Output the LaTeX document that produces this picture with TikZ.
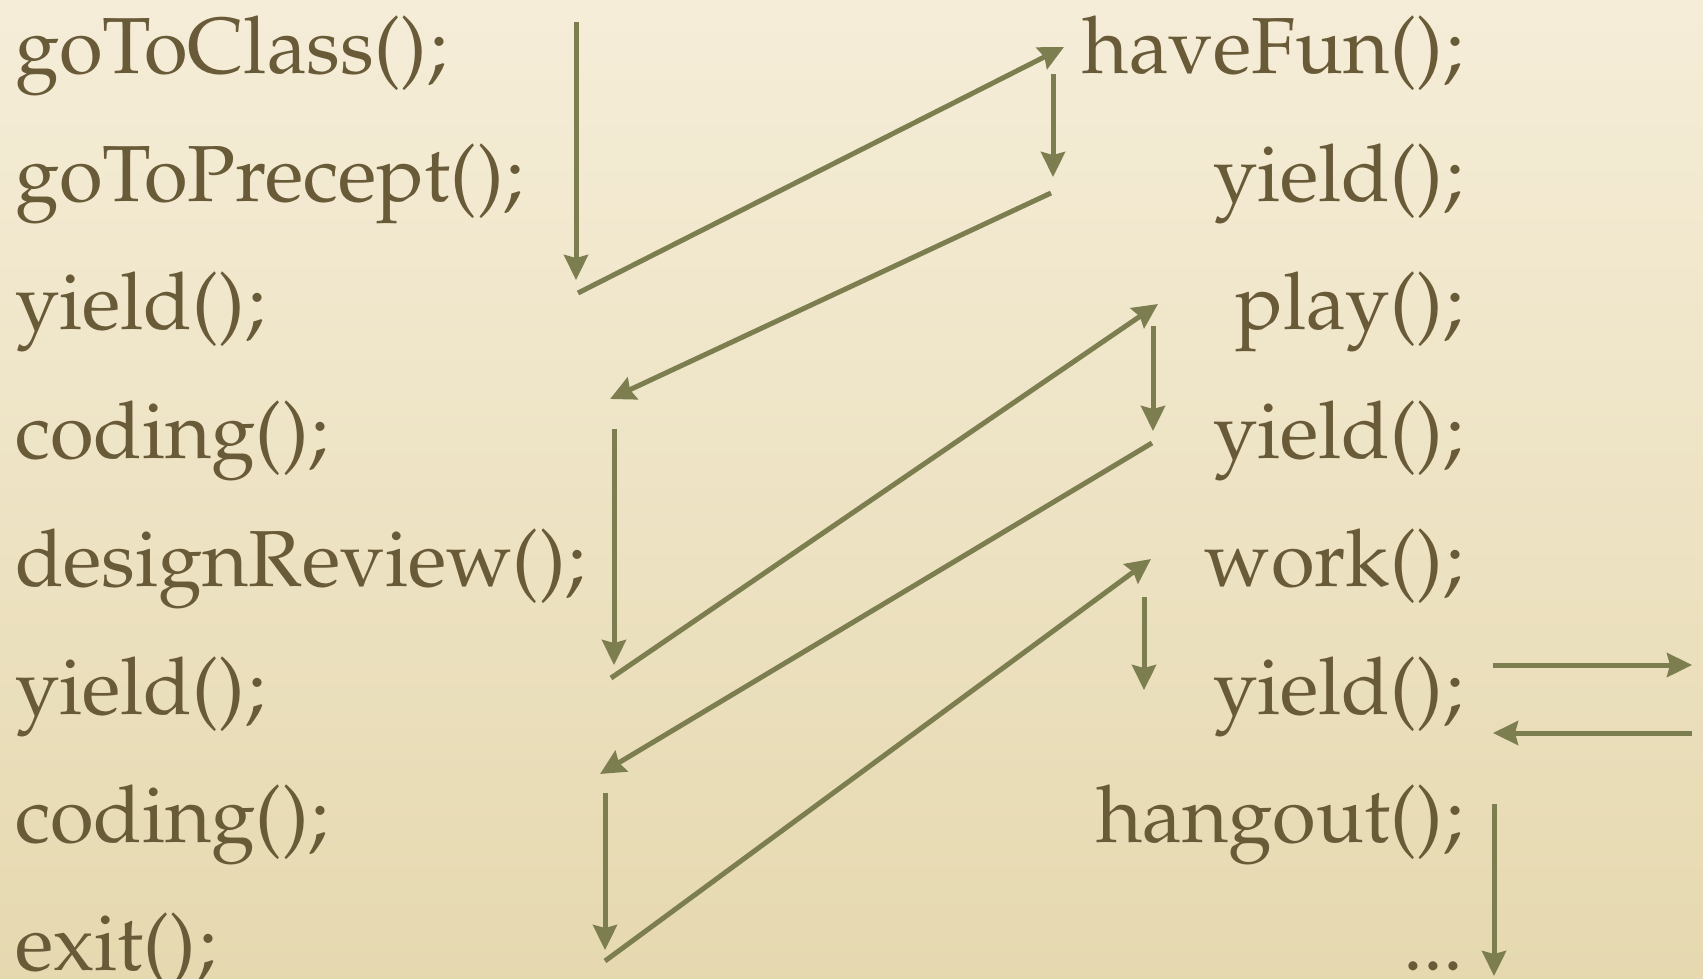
\documentclass[tikz,border=0pt]{standalone}
\usepackage[T1]{fontenc}
\usepackage{mathpazo}
\usetikzlibrary{arrows.meta}

\definecolor{paper}{RGB}{245,237,216}
\definecolor{paperdark}{RGB}{230,217,176}
\definecolor{ink}{RGB}{105,90,56}
\definecolor{olive}{RGB}{124,126,80}

\begin{document}
\begin{tikzpicture}[x=1bp, y=1bp, line cap=butt,
  code/.style={inner sep=0pt, outer sep=0pt, text=ink, font=\fontsize{79.5bp}{95bp}\selectfont},
  left code/.style={code, anchor=base west},
  right code/.style={code, anchor=base east},
  flow/.style={draw=olive, line width=5bp, -{Stealth[length=25bp, width=24bp, inset=3bp]}}]
  \useasboundingbox (0,0) rectangle (1703,-978);
  \shade[top color=paper, bottom color=paperdark] (0,0) rectangle (1703,-978);
  % thread one
  \node[left code] (classA) at (15,-73) {goToClass();};
  \node[left code] (preceptA) at (15,-201) {goToPrecept();};
  \node[left code] (yieldA1) at (15,-329) {yield();};
  \node[left code] (codingA1) at (15,-458) {coding();};
  \node[left code] (reviewA) at (15,-586) {designReview();};
  \node[left code] (yieldA2) at (15,-714) {yield();};
  \node[left code] (codingA2) at (15,-842) {coding();};
  \node[left code] (exitA) at (15,-970) {exit();};
  % thread two
  \node[right code] (funB) at (1463,-73) {haveFun();};
  \node[right code] (yieldB1) at (1463,-201) {yield();};
  \node[right code] (playB) at (1463,-329) {play();};
  \node[right code] (yieldB2) at (1463,-458) {yield();};
  \node[right code] (workB) at (1463,-586) {work();};
  \node[right code] (yieldB3) at (1463,-714) {yield();};
  \node[right code] (hangB) at (1463,-842) {hangout();};
  \node[right code] (moreB) at (1463,-970) {...};
  % arrow ends
  \coordinate (run1a) at (576,-22);   \coordinate (run1b) at (576,-280);
  \coordinate (sw1a) at (578,-293);   \coordinate (sw1b) at (1064,-47);
  \coordinate (run2a) at (1053,-74);  \coordinate (run2b) at (1053,-177);
  \coordinate (sw2a) at (1051,-193);  \coordinate (sw2b) at (610,-399);
  \coordinate (run3a) at (614,-429);  \coordinate (run3b) at (614,-665);
  \coordinate (sw3a) at (611,-678);   \coordinate (sw3b) at (1158,-304);
  \coordinate (run4a) at (1153,-326); \coordinate (run4b) at (1153,-431);
  \coordinate (sw4a) at (1152,-443);  \coordinate (sw4b) at (600,-774);
  \coordinate (run5a) at (605,-793);  \coordinate (run5b) at (605,-950);
  \coordinate (sw5a) at (605,-961);   \coordinate (sw5b) at (1151,-559);
  \coordinate (run6a) at (1144,-597); \coordinate (run6b) at (1144,-690);
  \coordinate (outa) at (1493,-665);  \coordinate (outb) at (1692,-665);
  \coordinate (ina) at (1692,-733);   \coordinate (inb) at (1493,-733);
  \coordinate (run7a) at (1494,-804); \coordinate (run7b) at (1494,-976);
  % control flow
  \draw[flow] (run1a) -- (run1b);
  \draw[flow] (sw1a) -- (sw1b);
  \draw[flow] (run2a) -- (run2b);
  \draw[flow] (sw2a) -- (sw2b);
  \draw[flow] (run3a) -- (run3b);
  \draw[flow] (sw3a) -- (sw3b);
  \draw[flow] (run4a) -- (run4b);
  \draw[flow] (sw4a) -- (sw4b);
  \draw[flow] (run5a) -- (run5b);
  \draw[flow] (sw5a) -- (sw5b);
  \draw[flow] (run6a) -- (run6b);
  \draw[flow] (outa) -- (outb);
  \draw[flow] (ina) -- (inb);
  \draw[flow] (run7a) -- (run7b);
\end{tikzpicture}
\end{document}
